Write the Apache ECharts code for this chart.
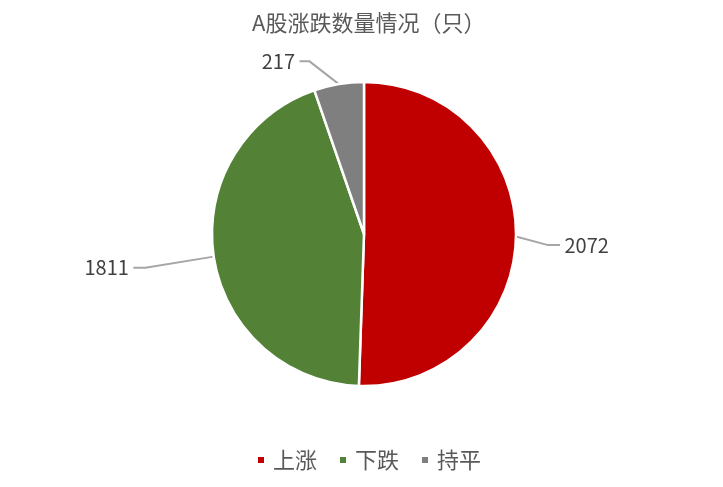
<!DOCTYPE html>
<html lang="zh">
<head>
    <meta charset="UTF-8">
    <title>A股涨跌数量情况</title>
    <script src="https://cdn.jsdelivr.net/npm/echarts@6/dist/echarts.min.js"></script>
    <style>
        html, body {
            margin: 0;
            padding: 0;
            background: #fff;
        }
        #chart {
            width: 723px;
            height: 487px;
        }
    </style>
</head>
<body>
<div id="chart"></div>
<script>
    var categories = ['上涨', '下跌', '持平'];
    var counts = [2072, 1811, 217];
    var colors = ['#c00000', '#538135', '#7f7f7f'];
    // label line lengths / nudges per slice
    var lineLen = [32, 62, 20];
    var lineLen2 = [12, 12, 10];
    var labelDx = [-5, -2, -21];
    var labelDy = [8, 2, -3];

    var pieData = categories.map(function (name, i) {
        return {
            name: name,
            value: counts[i],
            itemStyle: {color: colors[i]},
            labelLine: {length: lineLen[i], length2: lineLen2[i]}
        };
    });

    var font = '"Microsoft YaHei", "Noto Sans CJK SC", sans-serif';
    var option = {
        animation: false,
        title: {
            text: 'A股涨跌数量情况（只）',
            left: 247,
            top: 7,
            textStyle: {
                fontFamily: font,
                fontSize: 22,
                fontWeight: 'normal',
                color: '#595959'
            }
        },
        legend: {
            bottom: 11,
            left: 251,
            icon: 'rect',
            itemWidth: 8,
            itemHeight: 8,
            itemGap: 21,
            textStyle: {
                fontFamily: font,
                fontSize: 22,
                color: '#595959',
                padding: [0, 0, 0, 3]
            },
            data: categories
        },
        series: [
            {
                type: 'pie',
                center: [364, 234],
                radius: 152,
                startAngle: 90,
                clockwise: true,
                silent: true,
                itemStyle: {
                    borderColor: '#fff',
                    borderWidth: 2.5
                },
                label: {
                    show: true,
                    // a space on the line side keeps a small gap between line and number
                    formatter: function (p) {
                        return p.dataIndex === 0 ? ' ' + p.value : p.value + ' ';
                    },
                    fontFamily: font,
                    fontSize: 20,
                    color: '#404040'
                },
                labelLine: {
                    show: true,
                    lineStyle: {color: '#a6a6a6', width: 2}
                },
                // move labels from where the library put them, so the line is redrawn
                labelLayout: function (params) {
                    var r = params.labelRect;
                    var i = params.dataIndex;
                    var x = params.align === 'right' ? r.x + r.width : r.x;
                    var y = r.y + r.height / 2;
                    return {x: x + labelDx[i], y: y + labelDy[i]};
                },
                data: pieData
            }
        ]
    };
    var myChart = echarts.init(document.getElementById('chart'));
    myChart.setOption(option);
</script>
</body>
</html>
